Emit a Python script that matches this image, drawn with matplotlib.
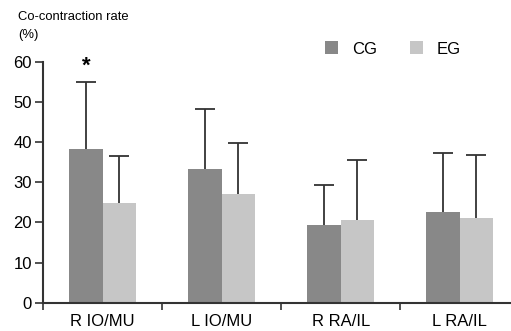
import numpy as np
import matplotlib.pyplot as plt

plt.rcParams['font.family'] = ['Liberation Sans', 'DejaVu Sans']

categories = ['R IO/MU', 'L IO/MU', 'R RA/IL', 'L RA/IL']
cg_mean = [38.3, 33.3, 19.3, 22.6]
cg_sd = [16.6, 15.0, 10.1, 14.8]
eg_mean = [24.9, 27.1, 20.7, 21.2]
eg_sd = [11.7, 12.6, 14.9, 15.7]

fig = plt.figure(figsize=(5.11, 3.31), dpi=100)
ax = fig.add_axes([43 / 511, 28.3 / 331, 1 - 43 / 511, 240.7 / 331])

x = np.arange(len(categories))
w = 0.28
err_kw = dict(ecolor='#333333', elinewidth=1.3, capsize=7, capthick=1.3, zorder=1)
bars = []
bars.append(ax.bar(x - w / 2, cg_mean, w, color='#888888', label='CG',
                   yerr=[np.zeros(4), cg_sd], error_kw=err_kw, zorder=2))
bars.append(ax.bar(x + w / 2, eg_mean, w, color='#c6c6c6', label='EG',
                   yerr=[np.zeros(4), eg_sd], error_kw=err_kw, zorder=2))
# only the upper cap is shown
for b in bars:
    caps = b.errorbar.lines[1]
    caps[0].set_visible(False)

ax.set_ylim(0, 60)
ax.set_xlim(-0.5, 3.43)
ax.set_yticks([0, 10, 20, 30, 40, 50, 60])
ax.set_xticks(x)
ax.set_xticklabels(categories, fontsize=12)
ax.set_xticks(np.arange(-0.5, 3.5, 1), minor=True)
ax.tick_params(axis='x', which='major', length=0, pad=8)
ax.tick_params(axis='x', which='minor', length=5, width=1.2, color='#333333')
ax.tick_params(axis='y', length=6, width=1.2, color='#333333', labelsize=12, pad=2)

for s in ['top', 'right']:
    ax.spines[s].set_visible(False)
for s in ['left', 'bottom']:
    ax.spines[s].set_linewidth(1.5)
    ax.spines[s].set_color('#333333')

# significance mark
ax.text(x[0] - w / 2, 59, '*', ha='center', va='center', fontsize=16, fontweight='bold')

fig.text(18 / 511, 1 - 17 / 331, 'Co-contraction rate', fontsize=9.4, va='center', ha='left')
fig.text(18 / 511, 1 - 35 / 331, '(%)', fontsize=9.4, va='center', ha='left')

h, l = ax.get_legend_handles_labels()
fig.legend(h, l, loc='center left', bbox_to_anchor=(325 / 511, 1 - 49 / 331), ncol=2,
           frameon=False, fontsize=12, handlelength=0.8, handleheight=0.8,
           columnspacing=2.0, handletextpad=0.8, borderpad=0, borderaxespad=0)

fig.savefig('out.png', dpi=100)
